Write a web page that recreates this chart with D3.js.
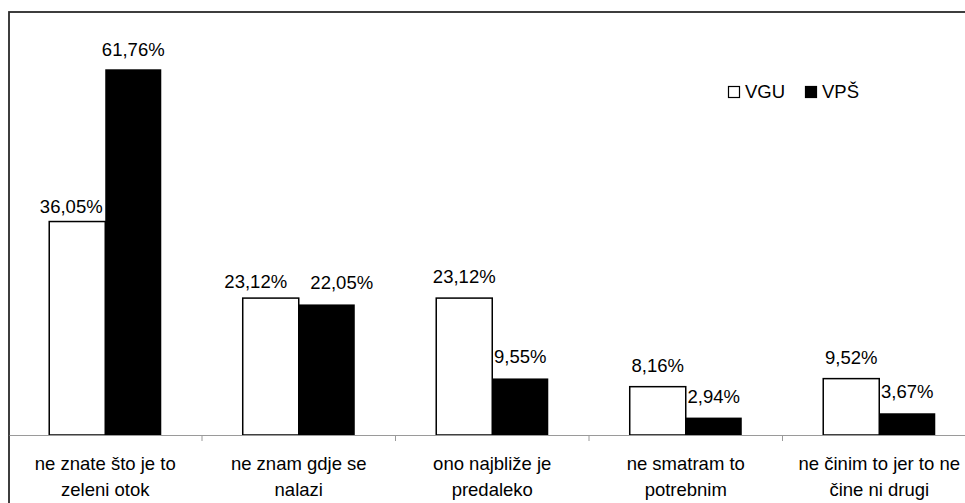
<!DOCTYPE html>
<html>
<head>
<meta charset="utf-8">
<script src="https://cdn.jsdelivr.net/npm/d3@7"></script>
<style>
  body { margin: 0; background: #fff; }
  svg { display: block; font-family: "Liberation Sans", Arial, sans-serif; }
</style>
</head>
<body>
<div id="chart"></div>
<script>
// Data
const categories = [
    ['ne znate što je to', 'zeleni otok'],
    ['ne znam gdje se', 'nalazi'],
    ['ono najbliže je', 'predaleko'],
    ['ne smatram to', 'potrebnim'],
    ['ne činim to jer to ne', 'čine ni drugi']
];
const seriesNames = ['VGU', 'VPŠ'];
const vguValues = [36.05, 23.12, 23.12, 8.16, 9.52];
const vpsValues = [61.76, 22.05, 9.55, 2.94, 3.67];

// small manual nudges of the value labels, as in the original
const labelNudge = {
    '0-0': [-6, 6], '0-1': [0, 2],
    '1-0': [-15, 5], '1-1': [15, 0]
};

const width = 965, height = 503;
const plot = { left: 8.5, right: 976, top: 20.5, bottom: 435 };

const svg = d3.select('#chart')
    .append('svg')
    .attr('width', width)
    .attr('height', height);

// chart border (runs off the right and bottom edge)
svg.append('rect')
    .attr('x', 9)
    .attr('y', 12)
    .attr('width', 1000)
    .attr('height', 600)
    .attr('fill', '#fff')
    .attr('stroke', '#2a2a2a')
    .attr('stroke-width', 1.8);

const x0 = d3.scaleBand()
    .domain(d3.range(categories.length))
    .range([plot.left, plot.right])
    .paddingInner(0.421)
    .paddingOuter(0.2105);

const x1 = d3.scaleBand()
    .domain(seriesNames)
    .range([0, x0.bandwidth()]);

const y = d3.scaleLinear()
    .domain([0, 70])
    .range([plot.bottom, plot.top]);

const fill = d3.scaleOrdinal().domain(seriesNames).range(['#fff', '#000']);

const rows = categories.map((c, i) => ({
    i,
    values: [
        { s: 'VGU', si: 0, v: vguValues[i] },
        { s: 'VPŠ', si: 1, v: vpsValues[i] }
    ]
}));

// Bars
const group = svg.append('g')
    .selectAll('g')
    .data(rows)
    .enter()
    .append('g')
    .attr('transform', d => `translate(${x0(d.i)},0)`);

group.selectAll('rect')
    .data(d => d.values)
    .enter()
    .append('rect')
    .attr('x', d => x1(d.s))
    .attr('y', d => y(d.v))
    .attr('width', x1.bandwidth())
    .attr('height', d => y(0) - y(d.v))
    .attr('fill', d => fill(d.s))
    .attr('stroke', '#000')
    .attr('stroke-width', d => d.si === 0 ? 1.5 : 0);

// Value labels
const fmt = v => v.toFixed(2).replace('.', ',') + '%';
group.each(function (row) {
    d3.select(this).selectAll('text')
        .data(row.values)
        .enter()
        .append('text')
        .attr('x', d => x1(d.s) + x1.bandwidth() / 2 + (labelNudge[row.i + '-' + d.si] || [0, 0])[0])
        .attr('y', d => y(d.v) - 15 + (labelNudge[row.i + '-' + d.si] || [0, 0])[1])
        .attr('text-anchor', 'middle')
        .style('font-size', '18.5px')
        .text(d => fmt(d.v));
});

// Category axis with ticks between the groups
const step = x0.step();
const axis = svg.append('g').attr('class', 'axis');
axis.append('line')
    .attr('x1', plot.left + 1)
    .attr('x2', width)
    .attr('y1', plot.bottom + 0.5)
    .attr('y2', plot.bottom + 0.5)
    .attr('stroke', '#9a9a9a')
    .attr('stroke-width', 1);

axis.selectAll('line.tick')
    .data(d3.range(1, categories.length))
    .enter()
    .append('line')
    .attr('class', 'tick')
    .attr('x1', d => plot.left + d * step)
    .attr('x2', d => plot.left + d * step)
    .attr('y1', plot.bottom)
    .attr('y2', plot.bottom + 6)
    .attr('stroke', '#9a9a9a');

axis.selectAll('text')
    .data(categories)
    .enter()
    .append('text')
    .attr('text-anchor', 'middle')
    .style('font-size', '18.5px')
    .attr('transform', (d, i) => `translate(${x0(i) + x0.bandwidth() / 2},0)`)
    .selectAll('tspan')
    .data(d => d)
    .enter()
    .append('tspan')
    .attr('x', 0)
    .attr('y', (d, j) => 470 + j * 25.5)
    .text(d => d);

// Legend
const legend = svg.append('g')
    .selectAll('g')
    .data(seriesNames)
    .enter()
    .append('g')
    .attr('transform', (d, i) => `translate(${728 + i * 77},86)`);

legend.append('rect')
    .attr('x', 0.5)
    .attr('y', 0.5)
    .attr('width', 11)
    .attr('height', 11)
    .attr('fill', d => fill(d))
    .attr('stroke', '#000')
    .attr('stroke-width', 1.2);

legend.append('text')
    .attr('x', 17)
    .attr('y', 12)
    .style('font-size', '18.5px')
    .text(d => d);
</script>
</body>
</html>
